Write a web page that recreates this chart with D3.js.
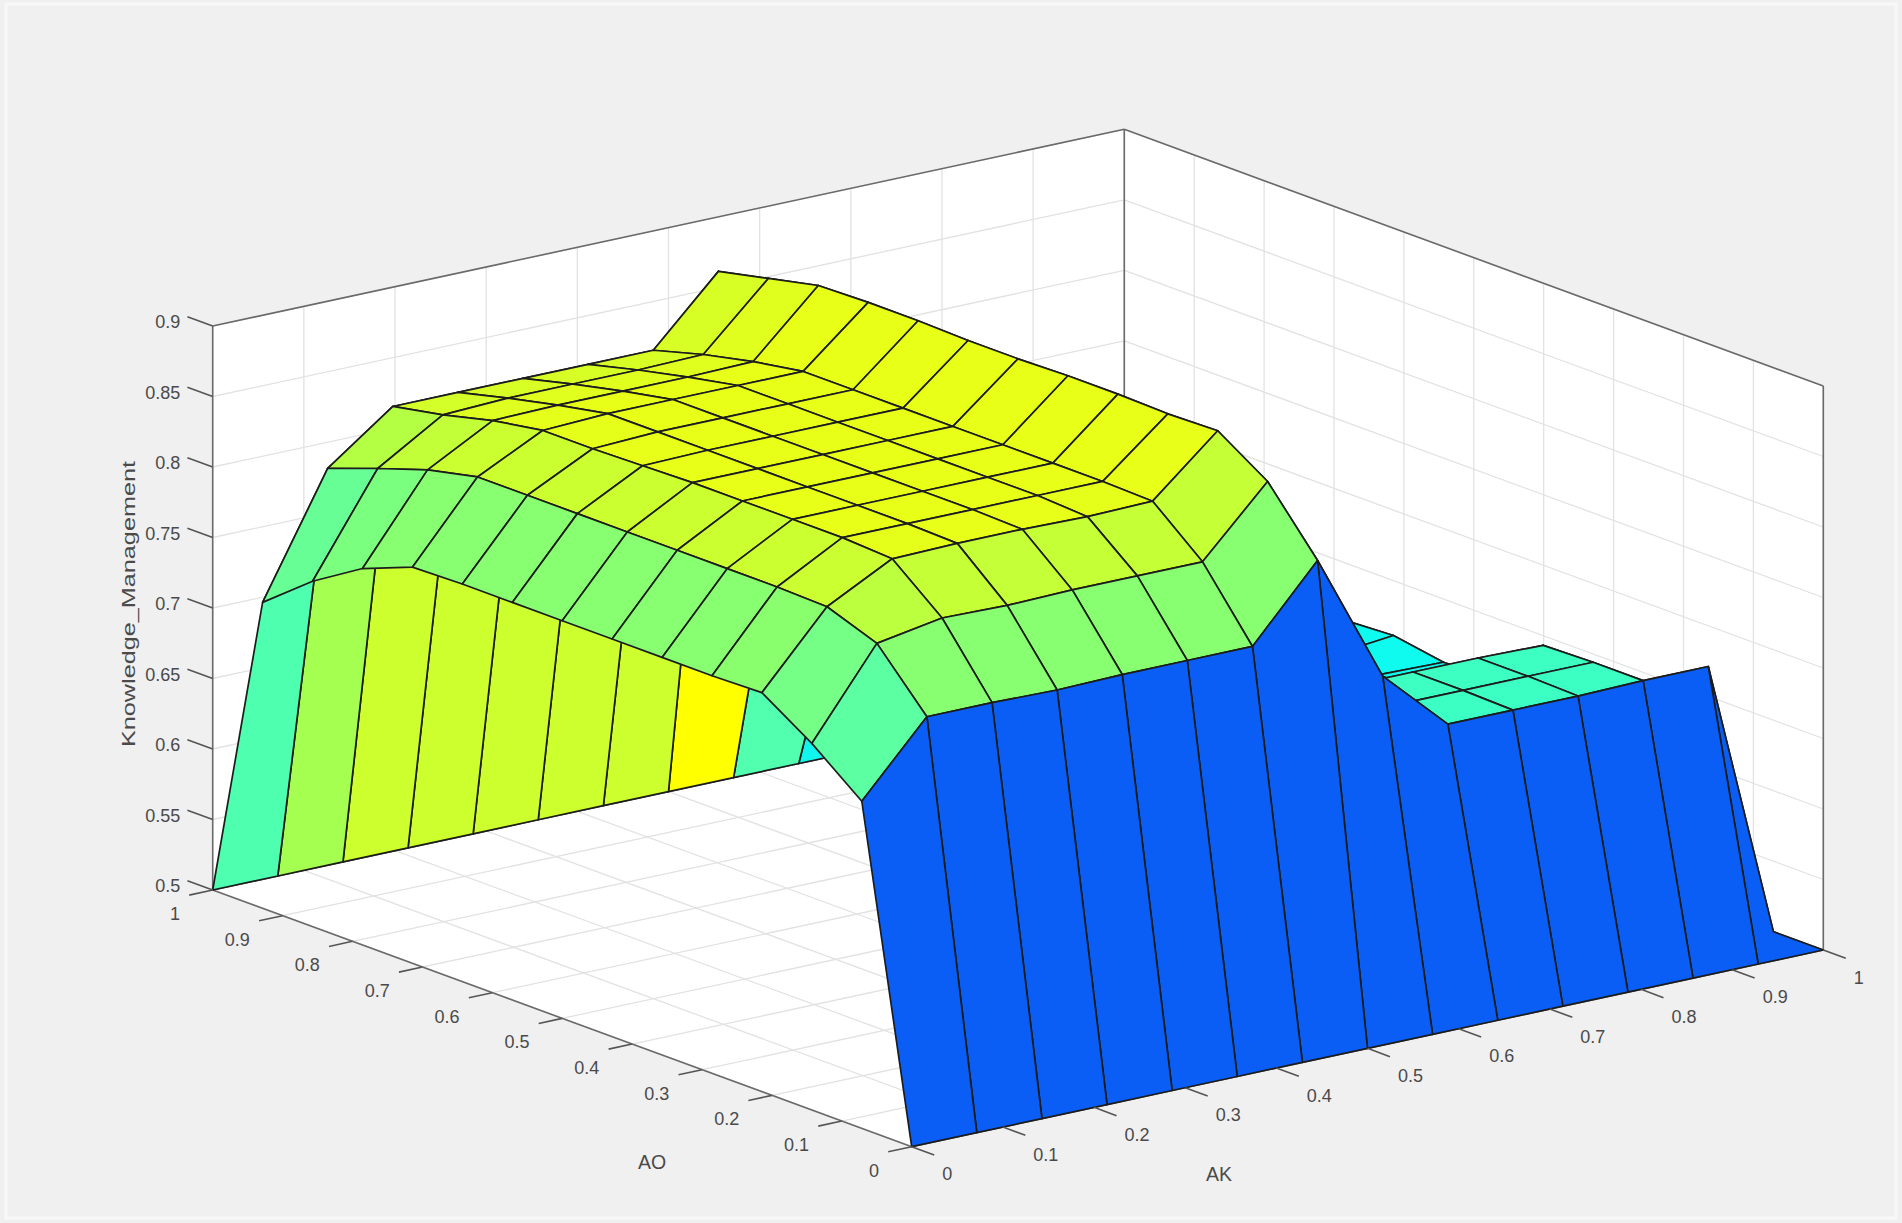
<!DOCTYPE html>
<html>
<head>
<meta charset="utf-8">
<script src="https://cdn.jsdelivr.net/npm/d3@7"></script>
<style>
  body { margin: 0; background: #f0f0f0; }
  svg text { font-family: "Liberation Sans", Arial, Helvetica, sans-serif; fill: #4a4a4a; }
</style>
</head>
<body>
<svg id="chart" width="1902" height="1223"></svg>
<script>
// surface grid, 15 points on each input
var akGrid = [0, 0.0714, 0.1429, 0.2143, 0.2857, 0.3571, 0.4286, 0.5, 0.5714, 0.6429, 0.7143, 0.7857, 0.8571, 0.9286, 1];
var aoGrid = [0, 0.0714, 0.1429, 0.2143, 0.2857, 0.3571, 0.4286, 0.5, 0.5714, 0.6429, 0.7143, 0.7857, 0.8571, 0.9286, 1];

// Knowledge_Management, one row per AO value (columns follow akGrid)
var km = [
  [0.5, 0.5, 0.5, 0.5, 0.5, 0.5, 0.5, 0.5, 0.5, 0.5, 0.5, 0.5, 0.5, 0.5, 0.5],
  [0.732, 0.782, 0.782, 0.781, 0.782, 0.782, 0.782, 0.833, 0.741, 0.697, 0.697, 0.697, 0.698, 0.698, 0.5],
  [0.760, 0.821, 0.829, 0.828, 0.829, 0.829, 0.829, 0.876, 0.700, 0.698, 0.698, 0.698, 0.698, 0.600, 0.5],
  [0.783, 0.834, 0.858, 0.859, 0.859, 0.858, 0.859, 0.899, 0.700, 0.698, 0.698, 0.698, 0.697, 0.600, 0.5],
  [0.782, 0.835, 0.860, 0.860, 0.860, 0.860, 0.860, 0.898, 0.700, 0.660, 0.660, 0.660, 0.660, 0.600, 0.5],
  [0.782, 0.835, 0.860, 0.860, 0.860, 0.860, 0.860, 0.899, 0.700, 0.660, 0.660, 0.660, 0.659, 0.600, 0.5],
  [0.782, 0.835, 0.860, 0.860, 0.860, 0.860, 0.860, 0.899, 0.700, 0.660, 0.660, 0.660, 0.665, 0.600, 0.5],
  [0.782, 0.835, 0.860, 0.860, 0.860, 0.860, 0.860, 0.898, 0.700, 0.660, 0.660, 0.660, 0.663, 0.600, 0.5],
  [0.782, 0.835, 0.859, 0.860, 0.860, 0.860, 0.860, 0.898, 0.700, 0.660, 0.660, 0.660, 0.660, 0.600, 0.5],
  [0.782, 0.835, 0.858, 0.860, 0.860, 0.860, 0.860, 0.899, 0.700, 0.660, 0.660, 0.660, 0.660, 0.600, 0.5],
  [0.781, 0.835, 0.858, 0.860, 0.860, 0.860, 0.860, 0.899, 0.700, 0.660, 0.660, 0.660, 0.660, 0.600, 0.5],
  [0.767, 0.827, 0.852, 0.853, 0.853, 0.853, 0.854, 0.898, 0.700, 0.660, 0.660, 0.660, 0.660, 0.600, 0.5],
  [0.745, 0.815, 0.843, 0.845, 0.845, 0.845, 0.846, 0.890, 0.700, 0.660, 0.660, 0.660, 0.660, 0.600, 0.5],
  [0.717, 0.802, 0.836, 0.836, 0.836, 0.836, 0.836, 0.882, 0.720, 0.655, 0.650, 0.650, 0.650, 0.600, 0.5],
  [0.5, 0.5, 0.5, 0.5, 0.5, 0.5, 0.5, 0.5, 0.5, 0.5, 0.5, 0.5, 0.5, 0.5, 0.5]
];

var akTicks = [0, 0.1, 0.2, 0.3, 0.4, 0.5, 0.6, 0.7, 0.8, 0.9, 1];
var aoTicks = [0, 0.1, 0.2, 0.3, 0.4, 0.5, 0.6, 0.7, 0.8, 0.9, 1];
var kmTicks = [0.5, 0.55, 0.6, 0.65, 0.7, 0.75, 0.8, 0.85, 0.9];
var akTickLabels = ["0", "0.1", "0.2", "0.3", "0.4", "0.5", "0.6", "0.7", "0.8", "0.9", "1"];
var aoTickLabels = ["0", "0.1", "0.2", "0.3", "0.4", "0.5", "0.6", "0.7", "0.8", "0.9", "1"];
var kmTickLabels = ["0.5", "0.55", "0.6", "0.65", "0.7", "0.75", "0.8", "0.85", "0.9"];

var svg = d3.select("#chart");

// faint window frame of the screenshot
svg.append("rect").attr("x", 6).attr("y", 4).attr("width", 1890).attr("height", 1214)
  .attr("fill", "none").attr("stroke", "#f8f8f8").attr("stroke-width", 3);

// box scales (fraction of each box edge) and the view
var sAK = d3.scaleLinear().domain([0, 1]).range([0, 1]);
var sAO = d3.scaleLinear().domain([0, 1]).range([0, 1]);
var sKM = d3.scaleLinear().domain([0.5, 0.9]).range([0, 1]);
var origin = [911.7, 1146.7];
var eAK = [911.6, -196.7], eAO = [-699, -256.7], eKM = [0, -564];

function proj(ak, ao, z) {
  var a = sAK(ak), b = sAO(ao), c = sKM(z);
  return [origin[0] + a * eAK[0] + b * eAO[0] + c * eKM[0],
          origin[1] + a * eAK[1] + b * eAO[1] + c * eKM[1]];
}
// distance into the picture, far faces get drawn first
function depth(ak, ao) { return 670.7 * sAK(ak) + 875 * sAO(ao); }

var colour = d3.scaleLinear()
  .domain([0.5, 0.66, 0.698, 0.7175, 0.782, 0.802, 0.835, 0.86, 0.882, 0.9])
  .range(["#0a5ef5", "#10fbef", "#3dffc2", "#4fffb0", "#88ff70", "#a4ff50", "#ccff30", "#e8ff18", "#ffff00", "#ffee00"])
  .clamp(true);

var line = d3.line();
function seg(p, q) { return line([p, q]); }

// back planes
var walls = [
  [proj(0, 0, 0.5), proj(1, 0, 0.5), proj(1, 1, 0.5), proj(0, 1, 0.5)],
  [proj(0, 1, 0.5), proj(1, 1, 0.5), proj(1, 1, 0.9), proj(0, 1, 0.9)],
  [proj(1, 0, 0.5), proj(1, 1, 0.5), proj(1, 1, 0.9), proj(1, 0, 0.9)]
];
svg.append("g").selectAll("path").data(walls).join("path")
  .attr("d", function (d) { return line(d) + "Z"; })
  .attr("fill", "#ffffff");

// grid lines
var grid = [];
akTicks.forEach(function (t) {
  grid.push([proj(t, 0, 0.5), proj(t, 1, 0.5)]);
  grid.push([proj(t, 1, 0.5), proj(t, 1, 0.9)]);
});
aoTicks.forEach(function (t) {
  grid.push([proj(0, t, 0.5), proj(1, t, 0.5)]);
  grid.push([proj(1, t, 0.5), proj(1, t, 0.9)]);
});
kmTicks.forEach(function (t) {
  grid.push([proj(0, 1, t), proj(1, 1, t)]);
  grid.push([proj(1, 0, t), proj(1, 1, t)]);
});
svg.append("g").selectAll("path").data(grid).join("path")
  .attr("d", function (d) { return seg(d[0], d[1]); })
  .attr("stroke", "#e2e2e2").attr("stroke-width", 1.3).attr("fill", "none");

// box edges
var box = [
  [proj(0, 1, 0.5), proj(0, 1, 0.9)], [proj(1, 1, 0.5), proj(1, 1, 0.9)], [proj(1, 0, 0.5), proj(1, 0, 0.9)],
  [proj(0, 1, 0.9), proj(1, 1, 0.9)], [proj(1, 1, 0.9), proj(1, 0, 0.9)],
  [proj(0, 1, 0.5), proj(1, 1, 0.5)], [proj(1, 1, 0.5), proj(1, 0, 0.5)],
  [proj(0, 0, 0.5), proj(1, 0, 0.5)], [proj(0, 0, 0.5), proj(0, 1, 0.5)]
];
svg.append("g").selectAll("path").data(box).join("path")
  .attr("d", function (d) { return seg(d[0], d[1]); })
  .attr("stroke", "#6a6a6a").attr("stroke-width", 1.6).attr("fill", "none");

// surface faces, coloured by their first corner
var faces = [];
for (var j = 0; j < aoGrid.length - 1; j++) {
  for (var i = 0; i < akGrid.length - 1; i++) {
    faces.push({
      pts: [proj(akGrid[i], aoGrid[j], km[j][i]), proj(akGrid[i + 1], aoGrid[j], km[j][i + 1]),
            proj(akGrid[i + 1], aoGrid[j + 1], km[j + 1][i + 1]), proj(akGrid[i], aoGrid[j + 1], km[j + 1][i])],
      c: km[j][i],
      d: depth((akGrid[i] + akGrid[i + 1]) / 2, (aoGrid[j] + aoGrid[j + 1]) / 2)
    });
  }
}
faces.sort(function (a, b) { return b.d - a.d; });
svg.append("g").selectAll("path").data(faces).join("path")
  .attr("d", function (d) { return line(d.pts) + "Z"; })
  .attr("fill", function (d) { return colour(d.c); })
  .attr("stroke", "#1c1c1c").attr("stroke-width", 1.7).attr("stroke-linejoin", "round");

// ticks and tick labels
var ticks = svg.append("g").attr("stroke", "#555").attr("stroke-width", 1.6);
var labels = svg.append("g").style("font-size", "18px");

kmTicks.forEach(function (t, k) {
  var p = proj(0, 1, t);
  ticks.append("path").attr("d", seg(p, [p[0] - 25.3, p[1] - 9.3]));
  labels.append("text").attr("x", p[0] - 32.5).attr("y", p[1] - 4)
    .attr("text-anchor", "end").attr("dominant-baseline", "central").text(kmTickLabels[k]);
});
aoTicks.forEach(function (t, k) {
  var p = proj(0, t, 0.5);
  ticks.append("path").attr("d", seg(p, [p[0] - 23.5, p[1] + 5.1]));
  labels.append("text").attr("x", p[0] - 32.7).attr("y", p[1] + 24)
    .attr("text-anchor", "end").attr("dominant-baseline", "central").text(aoTickLabels[k]);
});
akTicks.forEach(function (t, k) {
  var p = proj(t, 0, 0.5);
  ticks.append("path").attr("d", seg(p, [p[0] + 22.5, p[1] + 8.3]));
  labels.append("text").attr("x", p[0] + 30.5).attr("y", p[1] + 27.5)
    .attr("text-anchor", "start").attr("dominant-baseline", "central").text(akTickLabels[k]);
});

// axis titles
svg.append("text").attr("x", 652).attr("y", 1162).attr("text-anchor", "middle")
  .attr("dominant-baseline", "central").style("font-size", "19.5px").text("AO");
svg.append("text").attr("x", 1219).attr("y", 1174).attr("text-anchor", "middle")
  .attr("dominant-baseline", "central").style("font-size", "19.5px").text("AK");
svg.append("text").attr("transform", "translate(128,604) rotate(-90)")
  .attr("text-anchor", "middle").attr("dominant-baseline", "central")
  .attr("textLength", 286).attr("lengthAdjust", "spacingAndGlyphs")
  .style("font-size", "18.5px").text("Knowledge_Management");
</script>
</body>
</html>
